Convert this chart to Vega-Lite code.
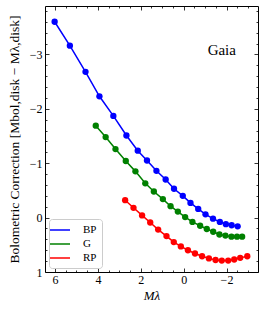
{
  "$schema": "https://vega.github.io/schema/vega-lite/v6.json",
  "width": 213,
  "height": 266,
  "autosize": {"type": "none"},
  "padding": {"left": 45, "top": 6, "right": 8, "bottom": 39},
  "config": {
    "font": "Liberation Serif",
    "view": {"stroke": "#000", "strokeWidth": 1},
    "axis": {
      "grid": false,
      "domain": false,
      "tickColor": "#000",
      "tickWidth": 0.8,
      "labelColor": "#000",
      "labelFontSize": 12,
      "labelOverlap": false,
      "labelFlush": false,
      "labelBound": false,
      "titleColor": "#000",
      "titleFontSize": 13.5,
      "titleFontWeight": "normal"
    },
    "legend": {
      "orient": "bottom-left",
      "offset": 4,
      "fillColor": "#fff",
      "strokeColor": "#ccc",
      "cornerRadius": 3,
      "padding": 5,
      "labelFontSize": 11,
      "labelColor": "#000",
      "symbolType": "M-2,0H2",
      "symbolSize": 100,
      "symbolStrokeWidth": 1.5,
      "rowPadding": 3,
      "labelOffset": 17
    }
  },
  "data": {
    "values": [
      {"band": "BP", "m": 6.02, "bc": -3.60},
      {"band": "BP", "m": 5.31, "bc": -3.16},
      {"band": "BP", "m": 4.58, "bc": -2.68},
      {"band": "BP", "m": 3.93, "bc": -2.23},
      {"band": "BP", "m": 3.28, "bc": -1.87},
      {"band": "BP", "m": 2.67, "bc": -1.51},
      {"band": "BP", "m": 2.14, "bc": -1.23},
      {"band": "BP", "m": 1.71, "bc": -1.05},
      {"band": "BP", "m": 1.27, "bc": -0.86},
      {"band": "BP", "m": 0.84, "bc": -0.70},
      {"band": "BP", "m": 0.45, "bc": -0.53},
      {"band": "BP", "m": 0.04, "bc": -0.40},
      {"band": "BP", "m": -0.32, "bc": -0.27},
      {"band": "BP", "m": -0.68, "bc": -0.16},
      {"band": "BP", "m": -1.02, "bc": -0.06},
      {"band": "BP", "m": -1.37, "bc": 0.02},
      {"band": "BP", "m": -1.69, "bc": 0.08},
      {"band": "BP", "m": -1.97, "bc": 0.12},
      {"band": "BP", "m": -2.24, "bc": 0.14},
      {"band": "BP", "m": -2.52, "bc": 0.16},
      {"band": "G", "m": 4.10, "bc": -1.69},
      {"band": "G", "m": 3.64, "bc": -1.48},
      {"band": "G", "m": 3.18, "bc": -1.26},
      {"band": "G", "m": 2.70, "bc": -1.04},
      {"band": "G", "m": 2.25, "bc": -0.85},
      {"band": "G", "m": 1.79, "bc": -0.63},
      {"band": "G", "m": 1.39, "bc": -0.48},
      {"band": "G", "m": 0.97, "bc": -0.34},
      {"band": "G", "m": 0.61, "bc": -0.21},
      {"band": "G", "m": 0.27, "bc": -0.11},
      {"band": "G", "m": -0.07, "bc": -0.01},
      {"band": "G", "m": -0.41, "bc": 0.08},
      {"band": "G", "m": -0.77, "bc": 0.15},
      {"band": "G", "m": -1.08, "bc": 0.21},
      {"band": "G", "m": -1.38, "bc": 0.26},
      {"band": "G", "m": -1.67, "bc": 0.31},
      {"band": "G", "m": -1.95, "bc": 0.33},
      {"band": "G", "m": -2.23, "bc": 0.35},
      {"band": "G", "m": -2.49, "bc": 0.35},
      {"band": "G", "m": -2.73, "bc": 0.35},
      {"band": "RP", "m": 2.73, "bc": -0.32},
      {"band": "RP", "m": 2.34, "bc": -0.18},
      {"band": "RP", "m": 1.94, "bc": -0.04},
      {"band": "RP", "m": 1.56, "bc": 0.09},
      {"band": "RP", "m": 1.19, "bc": 0.22},
      {"band": "RP", "m": 0.80, "bc": 0.34},
      {"band": "RP", "m": 0.46, "bc": 0.45},
      {"band": "RP", "m": 0.13, "bc": 0.53},
      {"band": "RP", "m": -0.20, "bc": 0.60},
      {"band": "RP", "m": -0.53, "bc": 0.66},
      {"band": "RP", "m": -0.86, "bc": 0.71},
      {"band": "RP", "m": -1.18, "bc": 0.75},
      {"band": "RP", "m": -1.49, "bc": 0.78},
      {"band": "RP", "m": -1.78, "bc": 0.79},
      {"band": "RP", "m": -2.08, "bc": 0.79},
      {"band": "RP", "m": -2.36, "bc": 0.77},
      {"band": "RP", "m": -2.64, "bc": 0.74},
      {"band": "RP", "m": -2.97, "bc": 0.71}
    ]
  },
  "layer": [
    {
      "mark": {"type": "line", "strokeWidth": 1.5},
      "encoding": {
        "x": {
          "field": "m", "type": "quantitative",
          "scale": {"domain": [6.47, -3.47], "zero": false, "nice": false},
          "axis": {
            "orient": "bottom",
            "title": "Mλ",
            "titleFontStyle": "italic",
            "titleFontSize": 13,
            "titlePadding": 4,
            "values": [-2, 0, 2, 4, 6],
            "format": "d",
            "tickSize": -4,
            "labelPadding": 6
          }
        },
        "y": {
          "field": "bc", "type": "quantitative",
          "scale": {"domain": [1, -3.89], "zero": false, "nice": false},
          "axis": {
            "orient": "left",
            "title": "Bolometric Correction [Mbol,disk − Mλ,disk]",
            "titlePadding": 8,
            "values": [-3, -2, -1, 0, 1],
            "format": "d",
            "tickSize": -4,
            "labelPadding": 7
          }
        },
        "color": {
          "field": "band", "type": "nominal",
          "scale": {"domain": ["BP", "G", "RP"], "range": ["#0000ff", "#008000", "#ff0000"]},
          "legend": {"title": null}
        }
      }
    },
    {
      "mark": {"type": "point", "filled": true, "opacity": 1, "size": 40},
      "encoding": {
        "x": {
          "field": "m", "type": "quantitative",
          "scale": {"domain": [6.47, -3.47], "zero": false, "nice": false},
          "axis": {"orient": "top", "title": null, "labels": false, "values": [-2, 0, 2, 4, 6], "tickSize": -4}
        },
        "y": {
          "field": "bc", "type": "quantitative",
          "scale": {"domain": [1, -3.89], "zero": false, "nice": false},
          "axis": {"orient": "right", "title": null, "labels": false, "values": [-3, -2, -1, 0, 1], "tickSize": -4}
        },
        "color": {"field": "band", "type": "nominal", "legend": {"title": null}}
      }
    },
    {
      "mark": {"type": "point", "opacity": 0},
      "encoding": {
        "x": {
          "field": "m", "type": "quantitative",
          "scale": {"domain": [6.47, -3.47], "zero": false, "nice": false},
          "axis": {"orient": "bottom", "title": null, "labels": false, "tickSize": -2,
            "values": [-3, -2.5, -1.5, -1, -0.5, 0.5, 1, 1.5, 2.5, 3, 3.5, 4.5, 5, 5.5]}
        },
        "y": {
          "field": "bc", "type": "quantitative",
          "scale": {"domain": [1, -3.89], "zero": false, "nice": false},
          "axis": {"orient": "left", "title": null, "labels": false, "tickSize": -2,
            "values": [-3.8, -3.6, -3.4, -3.2, -2.8, -2.6, -2.4, -2.2, -1.8, -1.6, -1.4, -1.2, -0.8, -0.6, -0.4, -0.2, 0.2, 0.4, 0.6, 0.8]}
        }
      }
    },
    {
      "mark": {"type": "point", "opacity": 0},
      "encoding": {
        "x": {
          "field": "m", "type": "quantitative",
          "scale": {"domain": [6.47, -3.47], "zero": false, "nice": false},
          "axis": {"orient": "top", "title": null, "labels": false, "tickSize": -2,
            "values": [-3, -2.5, -1.5, -1, -0.5, 0.5, 1, 1.5, 2.5, 3, 3.5, 4.5, 5, 5.5]}
        },
        "y": {
          "field": "bc", "type": "quantitative",
          "scale": {"domain": [1, -3.89], "zero": false, "nice": false},
          "axis": {"orient": "right", "title": null, "labels": false, "tickSize": -2,
            "values": [-3.8, -3.6, -3.4, -3.2, -2.8, -2.6, -2.4, -2.2, -1.8, -1.6, -1.4, -1.2, -0.8, -0.6, -0.4, -0.2, 0.2, 0.4, 0.6, 0.8]}
        }
      }
    },
    {
      "data": {"values": [{"label": "Gaia"}]},
      "mark": {"type": "text", "fontSize": 15, "color": "#000", "align": "center", "baseline": "middle"},
      "encoding": {
        "x": {"datum": -1.78, "type": "quantitative", "axis": null},
        "y": {"datum": -3.08, "type": "quantitative", "axis": null},
        "text": {"field": "label"}
      }
    }
  ],
  "resolve": {"axis": {"x": "independent", "y": "independent"}}
}
